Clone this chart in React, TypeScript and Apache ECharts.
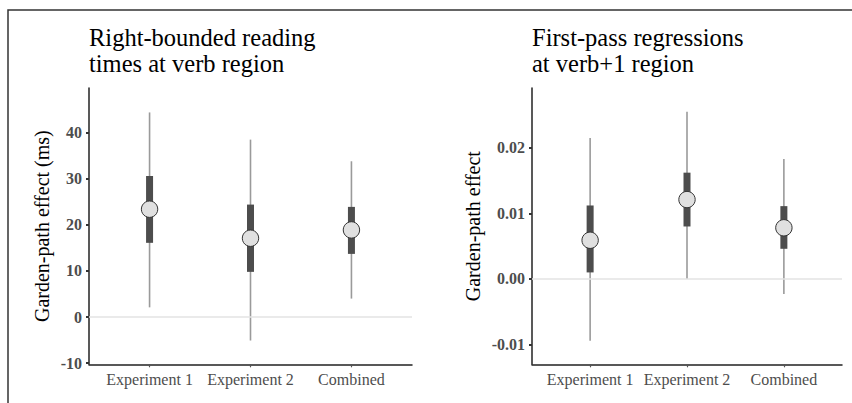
import React, { useEffect, useRef } from "react";
import * as echarts from "echarts";

const categories = ["Experiment 1", "Experiment 2", "Combined"];
const categoryPositions = [1, 2, 3];

// Left panel: right-bounded reading times (ms)
const rtEstimate = [23.4, 17.1, 18.9];
const rtLower95 = [2.1, -5.1, 4.0];
const rtUpper95 = [44.4, 38.5, 33.8];
const rtLower50 = [16.1, 9.8, 13.7];
const rtUpper50 = [30.6, 24.4, 23.9];
const rtTicks = [-10, 0, 10, 20, 30, 40];

// Right panel: first-pass regressions
const regEstimate = [0.0059, 0.0121, 0.0078];
const regLower95 = [-0.0094, 0.0, -0.0023];
const regUpper95 = [0.0215, 0.0255, 0.0183];
const regLower50 = [0.001, 0.008, 0.0046];
const regUpper50 = [0.0112, 0.0162, 0.0111];
const regTicks = [-0.01, 0.0, 0.01, 0.02];

const FONT = "'Liberation Serif', 'Times New Roman', serif";

function buildRows(est: number[], l95: number[], u95: number[], l50: number[], u50: number[]) {
  return categoryPositions.map((x, i) => [x, est[i], l95[i], u95[i], l50[i], u50[i]]);
}

const renderInterval = (params: any, api: any) => {
  const x = api.value(0);
  const p = api.coord([x, api.value(1)]);
  const lo95 = api.coord([x, api.value(2)]);
  const hi95 = api.coord([x, api.value(3)]);
  const lo50 = api.coord([x, api.value(4)]);
  const hi50 = api.coord([x, api.value(5)]);
  return {
    type: "group",
    children: [
      {
        type: "line",
        shape: { x1: p[0], y1: lo95[1], x2: p[0], y2: hi95[1] },
        style: { stroke: "#9a9a9a", lineWidth: 1.6 },
      },
      {
        type: "rect",
        shape: { x: p[0] - 3.5, y: hi50[1], width: 7, height: lo50[1] - hi50[1] },
        style: { fill: "#4d4d4d" },
      },
      {
        type: "circle",
        shape: { cx: p[0], cy: p[1], r: 8.2 },
        style: { fill: "#e0e0e0", stroke: "#333333", lineWidth: 1 },
      },
    ],
  };
};

function xAxisFor(gridIndex: number) {
  return {
    type: "value",
    gridIndex,
    min: 0.4,
    max: 3.6,
    splitLine: { show: false },
    axisLine: { show: true, onZero: false, lineStyle: { color: "#222", width: 1.5 } },
    axisTick: {
      show: true,
      customValues: categoryPositions,
      length: 3,
      lineStyle: { color: "#555", width: 1.2 },
    },
    axisLabel: {
      customValues: categoryPositions,
      formatter: (v: number) => categories[Math.round(v) - 1] ?? "",
      color: "#4d4d4d",
      fontFamily: FONT,
      fontSize: 16,
      margin: 7,
    },
  };
}

function yAxisFor(gridIndex: number, min: number, max: number, ticks: number[], name: string, nameGap: number, fmt: (v: number) => string) {
  return {
    type: "value",
    gridIndex,
    min,
    max,
    name,
    nameLocation: "middle",
    nameGap,
    nameTextStyle: { fontFamily: FONT, fontSize: 20, color: "#000" },
    splitLine: { show: false },
    axisLine: { show: true, lineStyle: { color: "#222", width: 1.5 } },
    axisTick: {
      show: true,
      customValues: ticks,
      length: 3,
      lineStyle: { color: "#333", width: 2 },
    },
    axisLabel: {
      customValues: ticks,
      formatter: fmt,
      color: "#4d4d4d",
      fontFamily: FONT,
      fontWeight: "bold",
      fontSize: 16,
      margin: 7,
    },
  };
}

const zeroLine = (xi: number, yi: number) => ({
  type: "line",
  xAxisIndex: xi,
  yAxisIndex: yi,
  data: [],
  silent: true,
  z: 1,
  markLine: {
    silent: true,
    symbol: ["none", "none"],
    label: { show: false },
    lineStyle: { color: "#e3e3e3", width: 1.6, type: "solid" },
    data: [{ yAxis: 0 }],
  },
});

export default function App() {
  const ref = useRef<HTMLDivElement>(null);
  useEffect(() => {
    if (!ref.current) return;
    const chart = echarts.init(ref.current, null, { renderer: "svg" });
    const option: any = {
      animation: false,
      backgroundColor: "#ffffff",
      textStyle: { fontFamily: FONT },
      title: [
        {
          text: "Right-bounded reading\ntimes at verb region",
          left: 89,
          top: 24,
          padding: 0,
          textStyle: { fontFamily: FONT, fontSize: 24.5, fontWeight: "normal", color: "#000", lineHeight: 26.6 },
        },
        {
          text: "First-pass regressions\nat verb+1 region",
          left: 532,
          top: 24,
          padding: 0,
          textStyle: { fontFamily: FONT, fontSize: 24.5, fontWeight: "normal", color: "#000", lineHeight: 26.6 },
        },
      ],
      graphic: [
        {
          type: "rect",
          shape: { x: 8, y: 10, width: 1000, height: 1000 },
          style: { fill: "none", stroke: "#333", lineWidth: 1.5 },
          silent: true,
          z: -1,
        },
      ],
      grid: [
        { left: 89, right: 440, top: 88, bottom: 38.7 },
        { left: 532, right: 10, top: 88, bottom: 38.7 },
      ],
      xAxis: [xAxisFor(0), xAxisFor(1)],
      yAxis: [
        yAxisFor(0, -10.26, 49.7, rtTicks, "Garden-path effect (ms)", 37, (v: number) => String(Math.round(v))),
        yAxisFor(1, -0.013, 0.0291, regTicks, "Garden-path effect", 49, (v: number) => v.toFixed(2)),
      ],
      series: [
        zeroLine(0, 0),
        zeroLine(1, 1),
        {
          type: "custom",
          xAxisIndex: 0,
          yAxisIndex: 0,
          z: 3,
          renderItem: renderInterval,
          encode: { x: 0, y: [1, 2, 3, 4, 5] },
          data: buildRows(rtEstimate, rtLower95, rtUpper95, rtLower50, rtUpper50),
        },
        {
          type: "custom",
          xAxisIndex: 1,
          yAxisIndex: 1,
          z: 3,
          renderItem: renderInterval,
          encode: { x: 0, y: [1, 2, 3, 4, 5] },
          data: buildRows(regEstimate, regLower95, regUpper95, regLower50, regUpper50),
        },
      ],
    };
    chart.setOption(option);
    return () => chart.dispose();
  }, []);
  return (
    <div
      ref={ref}
      style={{ position: "fixed", left: 0, top: 0, width: 852, height: 403 }}
    />
  );
}
